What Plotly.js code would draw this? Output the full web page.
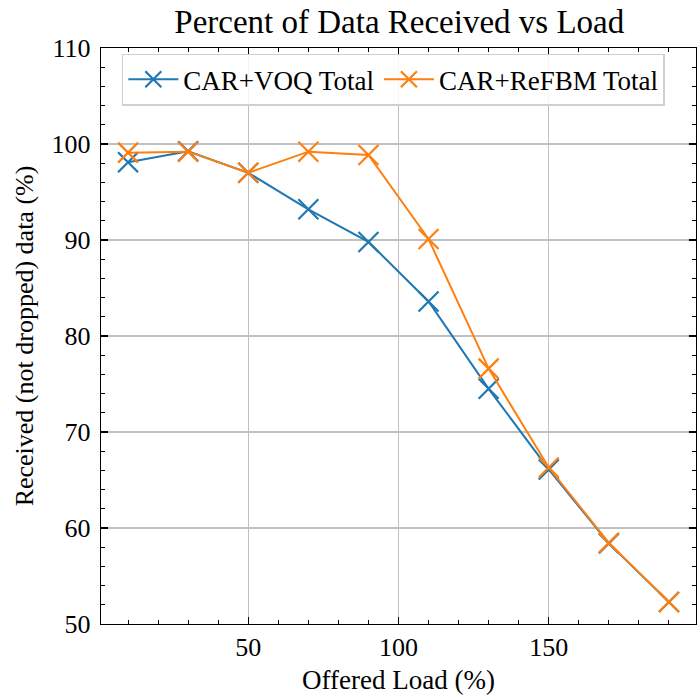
<!DOCTYPE html>
<html><head><meta charset="utf-8">
<script src="https://cdn.plot.ly/plotly-3.0.1.min.js"></script>
<style>body{margin:0;padding:0;background:#fff}#chart{width:698px;height:697px}</style>
</head><body><div id="chart"></div>
<script>
const offeredLoad = [10, 30, 50, 70, 90, 110, 130, 150, 170, 190];
const voqTotal   = [98.1, 99.25, 97.0, 93.2, 89.8, 83.6, 74.5, 66.1, 58.4, 52.3];
const refbmTotal = [99.1, 99.2, 97.0, 99.2, 98.85, 90.1, 76.6, 66.3, 58.45, 52.3];
const seriesNames = ['CAR+VOQ Total', 'CAR+ReFBM Total'];

const font = 'Liberation Serif, Times New Roman, serif';
function trace(y, name, color){
  return {x: offeredLoad, y: y, name: name, type:'scatter', mode:'lines+markers',
    line:{color:color, width:2},
    marker:{symbol:'x-thin-open', size:20, color:color, line:{color:color, width:2.2}}};
}
const axisCommon = {
  showline:true, mirror:'ticks', linecolor:'#000', linewidth:1.2,
  ticks:'inside', ticklen:7, tickwidth:1.2, tickcolor:'#000',
  showgrid:true, gridcolor:'#c0c0c0', gridwidth:1.2, zeroline:false,
  tickfont:{family:font, size:26, color:'#000'},
};
const layout = {
  width:698, height:697,
  margin:{l:101, r:2, t:48, b:73},
  paper_bgcolor:'#fff', plot_bgcolor:'#fff',
  title:{text:'Percent of Data Received vs Load', font:{family:font, size:33, color:'#000'}, x:0.572, xanchor:'center', yref:'container', y:0.969, yanchor:'middle'},
  xaxis: Object.assign({}, axisCommon, {range:[1,199], tickvals:[50,100,150],
    minor:{dtick:10, tick0:0, ticks:'inside', ticklen:4, tickwidth:1, tickcolor:'#000', showgrid:false},
    title:{text:'Offered Load (%)', font:{family:font, size:27, color:'#000'}, standoff:8}}),
  yaxis: Object.assign({}, axisCommon, {range:[50,110], dtick:10, tick0:50, ticklabelstandoff:4,
    minor:{dtick:2, tick0:50, ticks:'inside', ticklen:4, tickwidth:1, tickcolor:'#000', showgrid:false},
    title:{text:'Received (not dropped) data (%)', font:{family:font, size:26, color:'#000'}, standoff:10}}),
  legend:{orientation:'h', x:0.035, y:0.99, xanchor:'left', yanchor:'top',
    bgcolor:'rgba(255,255,255,0.85)', bordercolor:'#d0d0d0', borderwidth:1.5,
    font:{family:font, size:27, color:'#000'}, itemwidth:50, entrywidth:0, tracegroupgap:0},
  showlegend:true
};
Plotly.newPlot('chart', [trace(voqTotal, seriesNames[0], '#1f77b4'), trace(refbmTotal, seriesNames[1], '#ff7f0e')], layout, {displayModeBar:false, staticPlot:true});
</script></body></html>
